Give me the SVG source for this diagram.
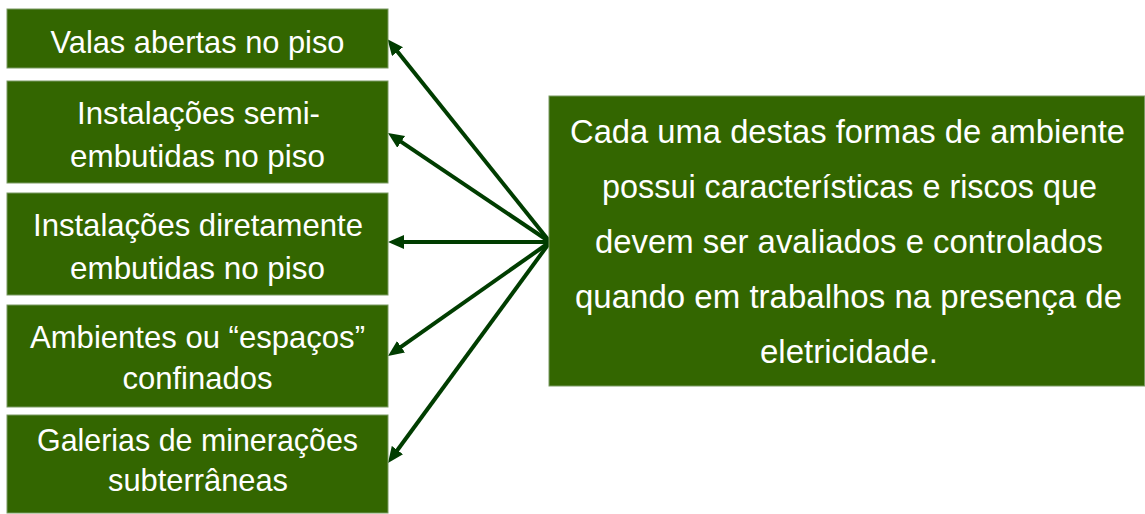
<svg xmlns="http://www.w3.org/2000/svg" width="1145" height="514" viewBox="0 0 1145 514">
<style>
.box{fill:#336600;stroke:#7a9a62;stroke-width:1}
.t{fill:#ffffff;font-family:"Liberation Sans","DejaVu Sans",sans-serif;font-size:32px;text-anchor:middle}
.tr{fill:#ffffff;font-family:"Liberation Sans","DejaVu Sans",sans-serif;font-size:34px;text-anchor:middle}
.c{fill:none;stroke:#003d00;stroke-width:4}
</style>
<defs>
<marker id="ah" markerUnits="userSpaceOnUse" markerWidth="17" markerHeight="15" refX="4" refY="7" orient="auto">
<path d="M0,0 L16,7 L0,14 z" fill="#003d00"/>
</marker>
</defs>
<rect width="1145" height="514" fill="#ffffff"/>
<g id="connectors">
<line class="c" x1="550" y1="242" x2="395.0" y2="48.6" marker-end="url(#ah)"/>
<line class="c" x1="550" y1="242" x2="397.9" y2="139.7" marker-end="url(#ah)"/>
<line class="c" x1="550" y1="242" x2="400" y2="242" marker-end="url(#ah)"/>
<line class="c" x1="550" y1="242" x2="397.8" y2="349.1" marker-end="url(#ah)"/>
<line class="c" x1="550" y1="242" x2="395.1" y2="453.3" marker-end="url(#ah)"/>
</g>
<g id="n1">
<rect class="box" x="7" y="9" width="381" height="59"/>
<text class="t" x="197.5" y="53" textLength="294" lengthAdjust="spacingAndGlyphs">Valas abertas no piso</text>
</g>
<g id="n2">
<rect class="box" x="7" y="81" width="381" height="102"/>
<text class="t" x="198.5" y="124" textLength="243" lengthAdjust="spacingAndGlyphs">Instalações semi-</text>
<text class="t" x="197.5" y="167" textLength="255" lengthAdjust="spacingAndGlyphs">embutidas no piso</text>
</g>
<g id="n3">
<rect class="box" x="7" y="193" width="381" height="102"/>
<text class="t" x="198" y="236" textLength="330" lengthAdjust="spacingAndGlyphs">Instalações diretamente</text>
<text class="t" x="197.5" y="279" textLength="255" lengthAdjust="spacingAndGlyphs">embutidas no piso</text>
</g>
<g id="n4">
<rect class="box" x="7" y="305" width="381" height="102"/>
<text class="t" x="197.5" y="348" textLength="335" lengthAdjust="spacingAndGlyphs">Ambientes ou “espaços”</text>
<text class="t" x="197.5" y="389" textLength="150" lengthAdjust="spacingAndGlyphs">confinados</text>
</g>
<g id="n5">
<rect class="box" x="7" y="415" width="381" height="98"/>
<text class="t" x="197.5" y="451" textLength="321" lengthAdjust="spacingAndGlyphs">Galerias de minerações</text>
<text class="t" x="198" y="491" textLength="180" lengthAdjust="spacingAndGlyphs">subterrâneas</text>
</g>
<g id="n6">
<rect class="box" x="549" y="96" width="595.5" height="290"/>
<text class="tr" x="847.5" y="143" textLength="555" lengthAdjust="spacingAndGlyphs">Cada uma destas formas de ambiente</text>
<text class="tr" x="849.5" y="198" textLength="495" lengthAdjust="spacingAndGlyphs">possui características e riscos que</text>
<text class="tr" x="849" y="253" textLength="508" lengthAdjust="spacingAndGlyphs">devem ser avaliados e controlados</text>
<text class="tr" x="848.5" y="308" textLength="547" lengthAdjust="spacingAndGlyphs">quando em trabalhos na presença de</text>
<text class="tr" x="849" y="363" textLength="178" lengthAdjust="spacingAndGlyphs">eletricidade.</text>
</g>
</svg>
